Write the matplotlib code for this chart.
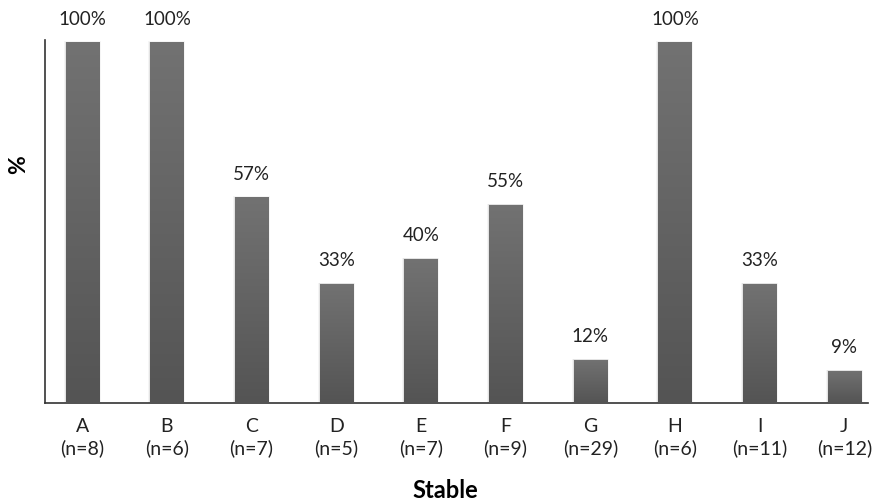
import numpy as np
import matplotlib.pyplot as plt
from matplotlib.colors import LinearSegmentedColormap

# data
groups = ["A", "B", "C", "D", "E", "F", "G", "H", "I", "J"]
n_sizes = [8, 6, 7, 5, 7, 9, 29, 6, 11, 12]
stable_pct = [100, 100, 57, 33, 40, 55, 12, 100, 33, 9]

plt.rcParams["font.family"] = ["Lato", "DejaVu Sans"]

fig = plt.figure(figsize=(8.79, 5.01), dpi=100)
ax = fig.add_axes([45 / 879, 1 - 403 / 501, 823 / 879, 363 / 501])

x = np.arange(len(groups))
width = 0.39
bars = ax.bar(x, stable_pct, width, color="#626262", zorder=2)

# vertical grey gradient inside each bar (lighter on top)
cmap = LinearSegmentedColormap.from_list("bar", ["#545454", "#727272"])
grad = np.linspace(0, 1, 256).reshape(-1, 1)
for b in bars:
    x0, y0 = b.get_x(), b.get_y()
    w, h = b.get_width(), b.get_height()
    im = ax.imshow(grad, cmap=cmap, aspect="auto", origin="lower",
                   extent=[x0, x0 + w, y0, y0 + h], zorder=3)
    im.set_clip_path(b)
    # faint soft shadow at the sides
    for k, a in [(0.024, 0.04), (0.012, 0.07)]:
        ax.add_patch(plt.Rectangle((x0 - k, y0), w + 2 * k, h + k * 10,
                                   color="black", alpha=a, lw=0, zorder=1))

for xi, v in zip(x, stable_pct):
    ax.text(xi, v + 4, f"{v}%", ha="center", va="bottom",
            fontsize=13.5, color="#222222")

ax.set_xlim(-0.44, 9.28)
ax.set_ylim(0, 100.6)
ax.set_xticks(x)
ax.set_xticklabels([f"{g}\n(n={n})" for g, n in zip(groups, n_sizes)],
                   fontsize=14, color="#222222", linespacing=1.25)
ax.tick_params(axis="x", length=0, pad=11)
ax.set_yticks([])

for side in ["top", "right"]:
    ax.spines[side].set_visible(False)
for side in ["left", "bottom"]:
    ax.spines[side].set_color("#333333")
    ax.spines[side].set_linewidth(1.2)

fig.text(445 / 879, 1 - 490 / 501, "Stable", ha="center", va="center",
         fontsize=17, fontweight="bold")
fig.text(19 / 879, 1 - 165 / 501, "%", ha="center", va="center",
         rotation=90, fontsize=16.5, fontweight="bold")

fig.savefig("out.png", dpi=100)
